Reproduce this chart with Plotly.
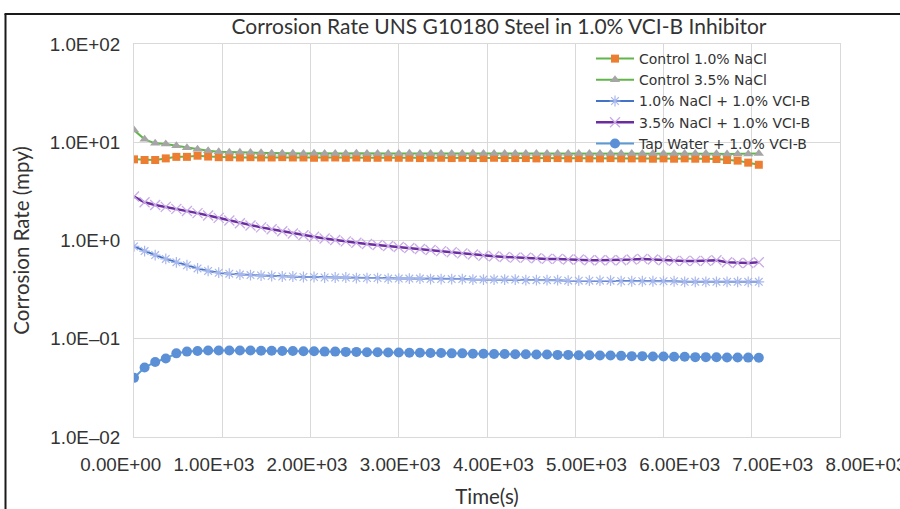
import plotly.graph_objects as go

# ---- data ----
time_s = [0, 120, 240, 360, 480, 600, 720, 840, 960, 1080,
          1200, 1320, 1440, 1560, 1680, 1800, 1920, 2040, 2160, 2280,
          2400, 2520, 2640, 2760, 2880, 3000, 3120, 3240, 3360, 3480,
          3600, 3720, 3840, 3960, 4080, 4200, 4320, 4440, 4560, 4680,
          4800, 4920, 5040, 5160, 5280, 5400, 5520, 5640, 5760, 5880,
          6000, 6120, 6240, 6360, 6480, 6600, 6720, 6840, 6960, 7080]

control_1_nacl = [6.7, 6.6, 6.6, 6.85, 7.1, 7.1, 7.3, 7.15, 7.05, 7.05,
                  7.0, 7.05, 7.0, 7.0, 7.05, 7.0, 7.0, 6.95, 7.0, 7.0,
                  6.95, 7.0, 6.95, 6.95, 7.0, 6.95, 6.95, 6.9, 6.95, 6.95,
                  6.9, 6.95, 6.9, 6.9, 6.95, 6.9, 6.9, 6.9, 6.85, 6.9,
                  6.9, 6.85, 6.9, 6.85, 6.85, 6.9, 6.85, 6.85, 6.85, 6.8,
                  6.85, 6.8, 6.85, 6.8, 6.8, 6.75, 6.6, 6.5, 6.2, 5.9]

control_35_nacl = [13.3, 10.7, 9.75, 9.6, 9.2, 8.8, 8.5, 8.2, 8.0, 7.9,
                   7.9, 7.85, 7.8, 7.75, 7.75, 7.75, 7.7, 7.75, 7.7, 7.7,
                   7.7, 7.75, 7.7, 7.7, 7.7, 7.7, 7.75, 7.7, 7.7, 7.7,
                   7.7, 7.7, 7.75, 7.7, 7.7, 7.7, 7.7, 7.7, 7.7, 7.7,
                   7.7, 7.7, 7.7, 7.7, 7.7, 7.7, 7.7, 7.7, 7.7, 7.7,
                   7.7, 7.7, 7.7, 7.7, 7.7, 7.65, 7.6, 7.6, 7.6, 7.7]

nacl_1_vci = [0.87, 0.78, 0.71, 0.65, 0.60, 0.56, 0.52, 0.49, 0.47, 0.46,
              0.45, 0.445, 0.44, 0.435, 0.43, 0.43, 0.425, 0.425, 0.42, 0.42,
              0.42, 0.415, 0.415, 0.415, 0.41, 0.41, 0.41, 0.41, 0.405, 0.405,
              0.405, 0.405, 0.40, 0.40, 0.40, 0.40, 0.40, 0.395, 0.395, 0.395,
              0.395, 0.39, 0.39, 0.39, 0.39, 0.39, 0.385, 0.385, 0.385, 0.385,
              0.385, 0.385, 0.38, 0.38, 0.38, 0.38, 0.38, 0.38, 0.38, 0.38]

nacl_35_vci = [2.8, 2.45, 2.3, 2.2, 2.1, 2.0, 1.9, 1.8, 1.7, 1.6,
               1.5, 1.42, 1.36, 1.3, 1.24, 1.18, 1.13, 1.09, 1.05, 1.01,
               0.98, 0.95, 0.92, 0.90, 0.88, 0.86, 0.84, 0.82, 0.80, 0.78,
               0.76, 0.74, 0.72, 0.70, 0.69, 0.68, 0.67, 0.67, 0.66, 0.65,
               0.65, 0.64, 0.64, 0.63, 0.63, 0.63, 0.63, 0.64, 0.65, 0.64,
               0.63, 0.62, 0.62, 0.62, 0.62, 0.63, 0.60, 0.59, 0.59, 0.60]

tap_water_vci = [0.040, 0.051, 0.058, 0.063, 0.071, 0.074, 0.075, 0.076, 0.076, 0.076,
                 0.076, 0.076, 0.0755, 0.0755, 0.075, 0.075, 0.0745, 0.0745, 0.074, 0.074,
                 0.0735, 0.0735, 0.073, 0.073, 0.0725, 0.0725, 0.072, 0.072, 0.0715, 0.0715,
                 0.071, 0.071, 0.0705, 0.0705, 0.070, 0.070, 0.0695, 0.0695, 0.069, 0.069,
                 0.0685, 0.0685, 0.068, 0.068, 0.0675, 0.0675, 0.067, 0.0665, 0.0665, 0.066,
                 0.066, 0.0655, 0.0655, 0.065, 0.065, 0.0648, 0.0645, 0.0645, 0.0643, 0.064]

x_tick_vals = [0, 1000, 2000, 3000, 4000, 5000, 6000, 7000, 8000]
x_tick_text = ["0.00E+00", "1.00E+03", "2.00E+03", "3.00E+03", "4.00E+03",
               "5.00E+03", "6.00E+03", "7.00E+03", "8.00E+03"]
y_tick_vals = [0.01, 0.1, 1, 10, 100]
y_tick_text = ["1.0E\u201302", "1.0E\u201301", "1.0E+0", "1.0E+01", "1.0E+02"]

title_text = "Corrosion Rate UNS G10180 Steel in 1.0% VCI-B Inhibitor"

# ---- figure ----
fig = go.Figure()

fig.add_trace(go.Scatter(
    x=time_s, y=control_1_nacl, name="Control 1.0% NaCl", mode="lines+markers",
    line=dict(color="#62B54A", width=2),
    marker=dict(symbol="square", size=8, color="#ED7D31")))
fig.add_trace(go.Scatter(
    x=time_s, y=control_35_nacl, name="Control 3.5% NaCl", mode="lines+markers",
    line=dict(color="#62B54A", width=2),
    marker=dict(symbol="triangle-up", size=9, color="#A5A5A5")))
fig.add_trace(go.Scatter(
    x=time_s, y=nacl_1_vci, name="1.0% NaCl + 1.0% VCI-B", mode="lines+markers",
    line=dict(color="#4472C4", width=2),
    marker=dict(symbol="asterisk-open", size=9, color="#A8B8EC",
                line=dict(color="#A8B8EC", width=1.2))))
fig.add_trace(go.Scatter(
    x=time_s, y=nacl_35_vci, name="3.5% NaCl + 1.0% VCI-B", mode="lines+markers",
    line=dict(color="#6A2C9E", width=2.5),
    marker=dict(symbol="x-thin-open", size=10, color="#C9ACE6",
                line=dict(color="#C9ACE6", width=1.3))))
fig.add_trace(go.Scatter(
    x=time_s, y=tap_water_vci, name="Tap Water + 1.0% VCI-B", mode="lines+markers",
    line=dict(color="#5B9BD5", width=2),
    marker=dict(symbol="circle", size=10, color="#5B8FD6")))

# empty helper trace so the tick-label axis (x2) is rendered; it draws nothing
fig.add_trace(go.Scatter(x=[], y=[], xaxis="x2", yaxis="y2", showlegend=False,
                         hoverinfo="skip", mode="markers"))

grid_col = "#D9D9D9"
tick_font = dict(family="Liberation Sans, Arial, sans-serif", size=18.8, color="#333333")
lab_font = dict(family="Lato, sans-serif", size=20.5, color="#333333")

fig.update_layout(
    width=900, height=509,
    margin=dict(l=100, r=10, t=44, b=72, autoexpand=False),
    paper_bgcolor="white",
    plot_bgcolor="rgba(0,0,0,0)",
    showlegend=True,
    title=dict(text=title_text, x=499 / 900, xanchor="center", xref="container",
               y=1 - 27 / 509, yanchor="middle", yref="container",
               font=dict(family="Lato, sans-serif", size=21, color="#333333")),
    xaxis=dict(domain=[(134 - 100) / 790, (840 - 100) / 790], range=[0, 8000],
               dtick=1000, tick0=0, showgrid=True, gridcolor=grid_col, gridwidth=1,
               zeroline=False, showline=True, linecolor=grid_col, linewidth=1, mirror=True,
               showticklabels=False, ticks="", anchor="y",
               title=dict(text="Time(s)", font=lab_font, standoff=52)),
    yaxis=dict(type="log", range=[-2, 2], domain=[0, 1], anchor="x",
               tickvals=y_tick_vals, ticktext=y_tick_text, tickfont=tick_font,
               showgrid=True, gridcolor=grid_col, gridwidth=1, zeroline=False,
               showline=True, linecolor=grid_col, linewidth=1, mirror=True,
               ticks="outside", ticklen=9, tickcolor="rgba(0,0,0,0)",
               title=dict(text="Corrosion Rate (mpy)", font=lab_font, standoff=14)),
    xaxis2=dict(domain=[(120.7 - 100) / 790, (866 - 100) / 790], range=[0, 8000],
                anchor="y2", tickvals=x_tick_vals, ticktext=x_tick_text, tickfont=tick_font,
                tickangle=0, showgrid=False, zeroline=False, showline=False,
                ticklabeloverflow="allow",
                ticks="outside", ticklen=10, tickcolor="rgba(0,0,0,0)"),
    yaxis2=dict(domain=[0, 1], anchor="x2", range=[0, 1], visible=False),
    legend=dict(x=(591 - 100) / 790, y=1.0025, xanchor="left", yanchor="top",
                bgcolor="rgba(0,0,0,0)", borderwidth=0, itemwidth=38,
                font=dict(family="DejaVu Sans, sans-serif", size=14, color="#333333"),
                tracegroupgap=0),
    shapes=[
        # white panel behind the legend text (hides gridlines, not the data)
        dict(type="rect", xref="paper", yref="paper", layer="between",
             x0=(588 - 100) / 790, x1=(839 - 100) / 790,
             y0=1 - (147 - 44) / 393, y1=1 - (45 - 44) / 393,
             fillcolor="white", line=dict(width=0)),
        dict(type="line", xref="paper", yref="paper",
             x0=(5.5 - 100) / 790, x1=(5.5 - 100) / 790,
             y0=1 + (44 - 14) / 393, y1=-(509 - 437) / 393 - 0.02,
             line=dict(color="#1A1A1A", width=2)),
        dict(type="line", xref="paper", yref="paper",
             x0=(4.5 - 100) / 790, x1=(905 - 100) / 790,
             y0=1 + (44 - 14) / 393, y1=1 + (44 - 14) / 393,
             line=dict(color="#1A1A1A", width=2)),
    ],
)

fig.write_html("out.html", config={"displayModeBar": False},
               post_script="document.body.style.margin='0';")
